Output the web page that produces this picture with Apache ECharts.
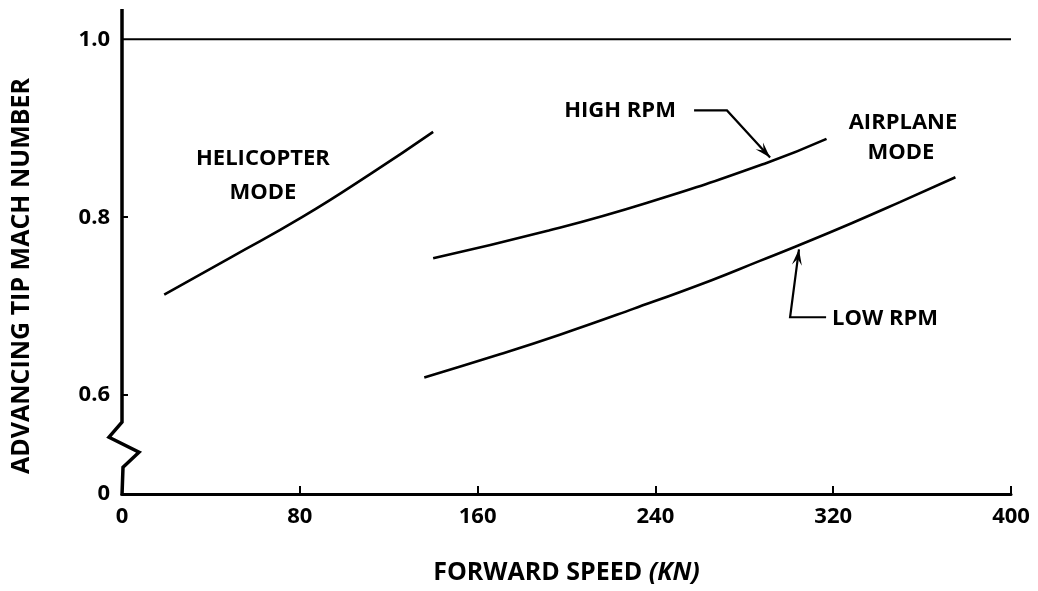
<!DOCTYPE html>
<html><head><meta charset="utf-8">
<script src="https://cdn.jsdelivr.net/npm/echarts@6/dist/echarts.min.js"></script>
<style>html,body{margin:0;padding:0;background:#fff}#c{width:1038px;height:591px}</style>
</head><body><div id="c"></div>
<script>
// ---- data ----
const xTicks = [0, 80, 160, 240, 320, 400];
const yTickValues = [0.6, 0.8, 1.0];
const yTickLabels = ['0', '0.6', '0.8', '1.0'];
const helicopterMode = [[19,0.713],[49,0.755],[81,0.800],[112,0.849],[140,0.896]];
const highRpm = [[140,0.754],[192,0.785],[236,0.816],[290,0.861],[317,0.888]];
const lowRpm = [[136,0.620],[170,0.646],[197,0.668],[230,0.697],[265,0.729],[287,0.751],[304,0.768],[328,0.793],[350,0.817],[375,0.845]];
const limitLine = [[0,1.0],[400,1.0]];

// broken axis: "0" is drawn just below the break
const Y_BOTTOM = 0.489, Y_TOP = 1.034;
const BREAK_HI = 0.5697, BREAK_LO = 0.5191;
const yLabelPos = [Y_BOTTOM].concat(yTickValues);

const FONT = '"Open Sans", "DejaVu Sans", sans-serif';
const chart = echarts.init(document.getElementById('c'), null, {renderer: 'canvas'});
const lineStyle = {color: '#000', width: 2.6};
chart.setOption({
  animation: false,
  backgroundColor: '#fff',
  grid: {left: 122, right: 27, top: 9, bottom: 97},
  xAxis: {
    type: 'value', min: xTicks[0], max: xTicks[xTicks.length-1], interval: 80,
    axisLine: {show: true, onZero: false, lineStyle: {color: '#000', width: 3}},
    axisTick: {show: true, inside: true, length: 8, lineStyle: {color: '#000', width: 2}},
    axisLabel: {color: '#000', fontFamily: FONT, fontWeight: 'bold', fontSize: 22, margin: 12},
    splitLine: {show: false},
    name: 'FORWARD SPEED {i|(KN)}', nameLocation: 'middle', nameGap: 66,
    nameTextStyle: {color: '#000', fontFamily: FONT, fontWeight: 'bold', fontSize: 25,
      rich: {i: {fontStyle: 'italic', fontFamily: FONT, fontWeight: 'bold', fontSize: 25, color: '#000'}}}
  },
  yAxis: {
    type: 'value', min: Y_BOTTOM, max: Y_TOP,
    axisLine: {show: false},
    axisTick: {show: true, inside: true, length: 6, customValues: [0.6, 0.8], lineStyle: {color: '#000', width: 2}},
    axisLabel: {color: '#000', fontFamily: FONT, fontWeight: 'bold', fontSize: 22, margin: 12,
      customValues: yLabelPos,
      formatter: function (v) {
        for (let i = 0; i < yLabelPos.length; i++) if (Math.abs(v - yLabelPos[i]) < 1e-6) return yTickLabels[i];
        return '';
      }},
    splitLine: {show: false}
  },
  series: [
    {type: 'line', data: limitLine, symbol: 'none', lineStyle: {color: '#000', width: 2.2}},
    {type: 'line', data: helicopterMode, smooth: true, symbol: 'none', lineStyle: lineStyle},
    {type: 'line', data: highRpm, smooth: true, symbol: 'none', lineStyle: lineStyle},
    {type: 'line', data: lowRpm, smooth: true, symbol: 'none', lineStyle: lineStyle}
  ]
});

function P(x, y) { return chart.convertToPixel({gridIndex: 0}, [x, y]); }
function arrowHead(from, to, len, wid) {
  const dx = to[0]-from[0], dy = to[1]-from[1], d = Math.hypot(dx, dy);
  const ux = dx/d, uy = dy/d, nx = -uy, ny = ux;
  const bx = to[0]-ux*len, by = to[1]-uy*len;
  return {type: 'polygon', shape: {points: [to, [bx+nx*wid, by+ny*wid], [to[0]-ux*len*0.6, to[1]-uy*len*0.6], [bx-nx*wid, by-ny*wid]]},
    style: {fill: '#000'}, z: 100};
}
const label = (t, p, align) => ({type: 'text', x: p[0], y: p[1], z: 100,
  style: {text: t, font: 'bold 22px ' + FONT, fill: '#000', textAlign: align || 'center', textVerticalAlign: 'middle'}});

// y axis line with zigzag break
const pTop = P(0, Y_TOP), b1 = P(0, BREAK_HI), b4 = P(0, BREAK_LO), pBot = P(0, Y_BOTTOM);
const hgt = b4[1] - b1[1];
const yAxisPts = [pTop, b1, [b1[0]-13, b1[1]+hgt/3], [b1[0]+17, b1[1]+2*hgt/3], [b4[0]+1, b4[1]], [pBot[0], pBot[1]+1.5]];

// annotations (data coords)
const hiLine = [P(257.4,0.920), P(272.2,0.920), P(291.6,0.867)];
const loLine = [P(316.8,0.6876), P(300.6,0.6876), P(304.6,0.764)];

chart.setOption({
  graphic: [
    {type: 'polyline', shape: {points: yAxisPts}, style: {stroke: '#000', lineWidth: 3.5, fill: null, lineJoin: 'miter'}, z: 100},
    {type: 'text', x: 22, y: 276, rotation: Math.PI/2, z: 100,
      style: {text: 'ADVANCING TIP MACH NUMBER', font: 'bold 25px ' + FONT, fill: '#000', textAlign: 'center', textVerticalAlign: 'middle'}},
    {type: 'polyline', shape: {points: hiLine}, style: {stroke: '#000', lineWidth: 2.2, fill: null}, z: 100},
    arrowHead(hiLine[1], hiLine[2], 16, 5),
    {type: 'polyline', shape: {points: loLine}, style: {stroke: '#000', lineWidth: 2.2, fill: null}, z: 100},
    arrowHead(loLine[1], loLine[2], 16, 5),
    label('HELICOPTER', P(63.4, 0.866)),
    label('MODE', P(63.4, 0.828)),
    label('HIGH RPM', P(224.1, 0.920)),
    label('AIRPLANE', P(351.4, 0.906)),
    label('MODE', P(350.5, 0.873)),
    label('LOW RPM', P(319.5, 0.6865), 'left')
  ]
});
</script></body></html>
